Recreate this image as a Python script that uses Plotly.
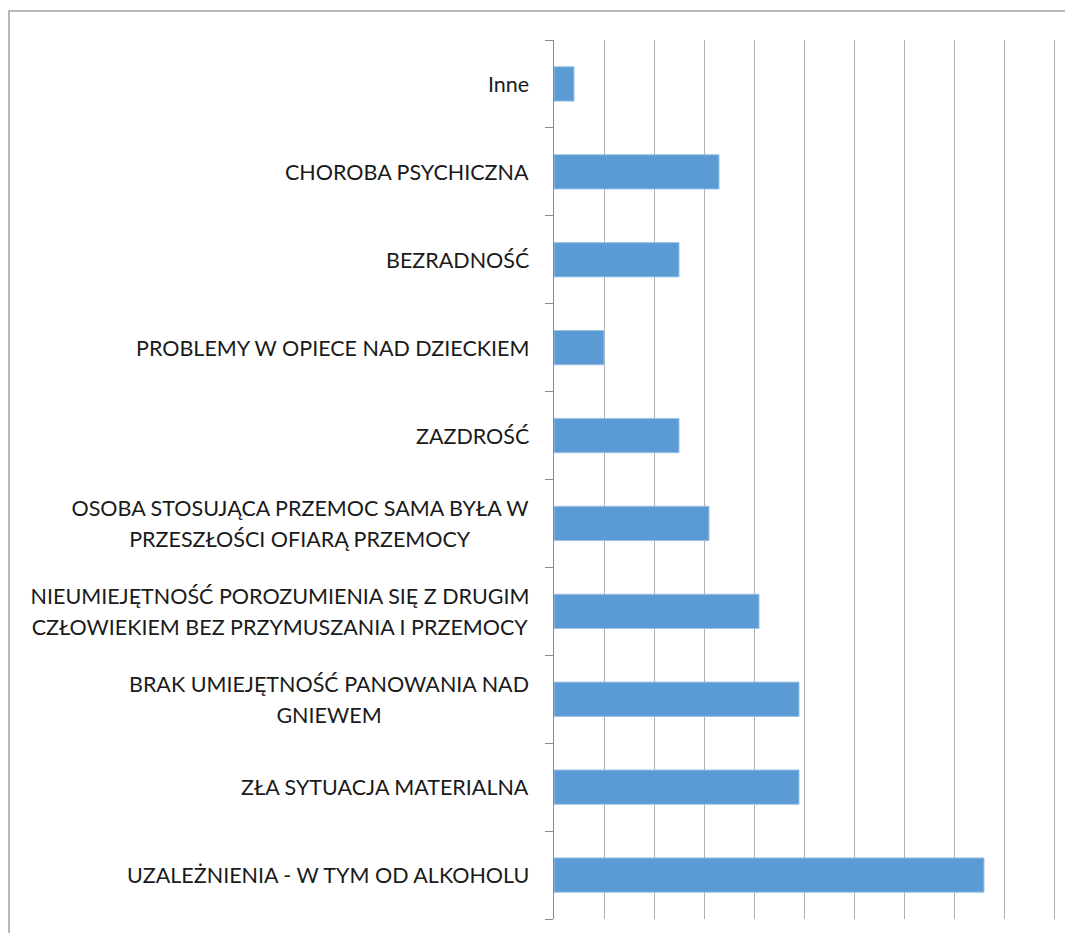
import plotly.graph_objects as go

categories = [
    "UZALEŻNIENIA - W TYM OD ALKOHOLU",
    "ZŁA SYTUACJA MATERIALNA",
    "BRAK UMIEJĘTNOŚĆ PANOWANIA NAD<br>GNIEWEM",
    "NIEUMIEJĘTNOŚĆ POROZUMIENIA SIĘ Z DRUGIM<br>CZŁOWIEKIEM BEZ PRZYMUSZANIA I PRZEMOCY",
    "OSOBA STOSUJĄCA PRZEMOC SAMA BYŁA W<br>PRZESZŁOŚCI OFIARĄ PRZEMOCY",
    "ZAZDROŚĆ",
    "PROBLEMY W OPIECE NAD DZIECKIEM",
    "BEZRADNOŚĆ",
    "CHOROBA PSYCHICZNA",
    "Inne",
]
values = [8.6, 4.9, 4.9, 4.1, 3.1, 2.5, 1.0, 2.5, 3.3, 0.4]

# approximate pixel width of the text block for wrapped labels (layout only)
label_box_width = {2: 400, 3: 498, 4: 458}

# page has an 8px body margin
W, H = 1057, 925
L, T, B = 546, 32, 14
XMAX = 10.04
PX_PER_UNIT = 50
R = W - L - XMAX * PX_PER_UNIT

fig = go.Figure(go.Bar(
    y=categories, x=values, orientation="h",
    marker=dict(color="#5b9bd5", line=dict(color="#9cc2e5", width=1)),
    width=0.39,
))

FS = 21.5
FONT = dict(family="Lato, 'Open Sans', sans-serif", size=FS, color="#1a1a1a")
GAP = 31
XSHIFT = -23
ann = []
for k, cat in enumerate(categories):
    lines = cat.split("<br>")
    n = len(lines)
    if n == 1:
        ann.append(dict(x=0, xref="paper", y=cat, yref="y", text=cat, showarrow=False,
                        xanchor="right", yanchor="middle", xshift=XSHIFT, font=FONT))
    else:
        for i, ln in enumerate(lines):
            up = ((n - 1) / 2 - i) * GAP
            ann.append(dict(x=0, xref="paper", y=cat, yref="y", text=ln, showarrow=False,
                            xanchor="right", yanchor="middle", align="center",
                            width=label_box_width[k], xshift=XSHIFT, yshift=up, font=FONT))

pw = W - L - R
ph = H - T - B
fx = (1 - L) / pw
fy = (H - B - 3) / ph

fig.update_layout(
    width=W, height=H,
    margin=dict(l=L, r=R, t=T, b=B),
    paper_bgcolor="white", plot_bgcolor="white",
    showlegend=False,
    annotations=ann,
    xaxis=dict(range=[0, XMAX], dtick=1, showgrid=True, gridcolor="#b0b0b0", gridwidth=1.3,
               showticklabels=False, zeroline=False, showline=False, ticks=""),
    yaxis=dict(type="category", showticklabels=False, ticks="outside", ticklen=8,
               tickcolor="#8a8a8a", tickwidth=1.3, tickson="boundaries",
               showline=True, linecolor="#8a8a8a", linewidth=1.3, showgrid=False,
               zeroline=False),
    shapes=[dict(type="path", xref="paper", yref="paper",
                 path=f"M {fx} {-0.1} L {fx} {fy} L 1.2 {fy}",
                 line=dict(color="#a0a0a0", width=1.5))],
)
fig.write_html("out.html")
